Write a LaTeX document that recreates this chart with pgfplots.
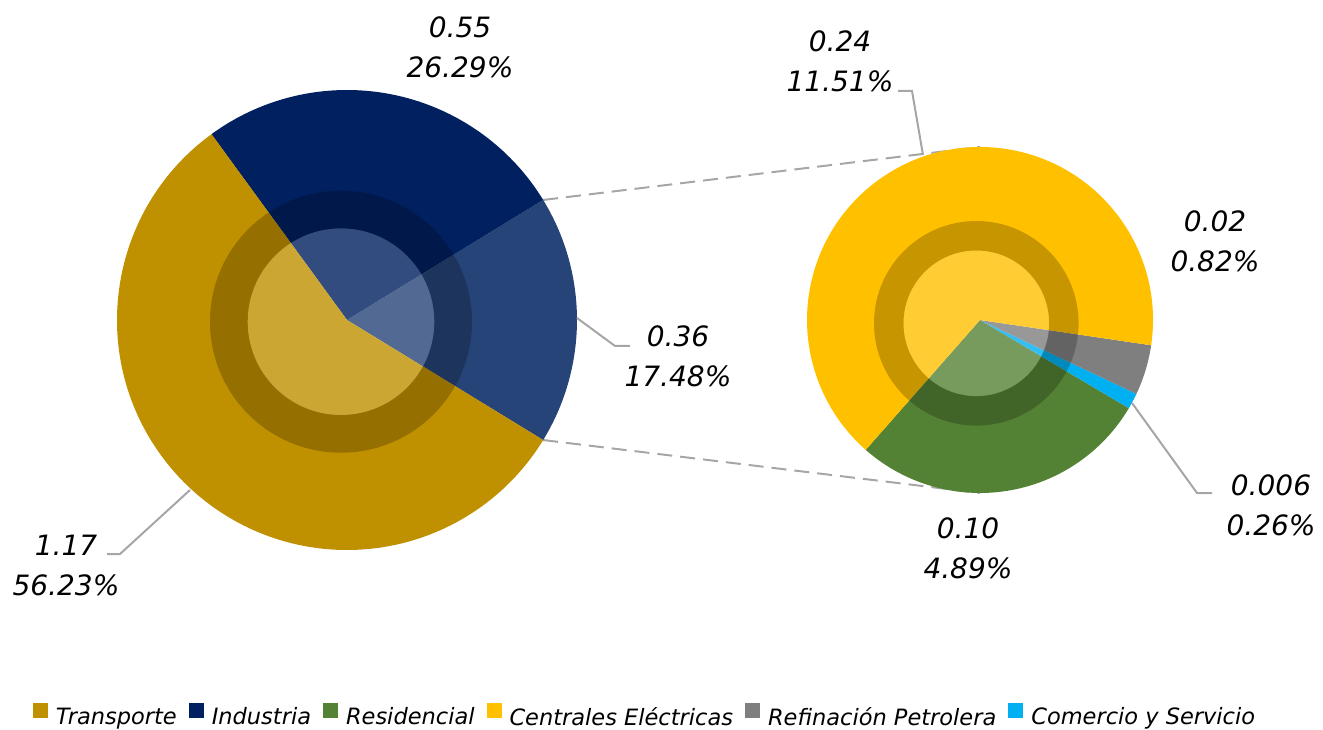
\documentclass[border=0pt]{standalone}
\usepackage{pgfplots}
\pgfplotsset{compat=1.18}
\usepackage{pgfplotstable}
\usepackage{fontspec}
\setmainfont{DejaVu Sans}

\definecolor{cTrans}{HTML}{BF9000}
\definecolor{cInd}{HTML}{002060}
\definecolor{cOtros}{HTML}{264478}
\definecolor{cCent}{HTML}{FFC000}
\definecolor{cRes}{HTML}{548235}
\definecolor{cRef}{HTML}{7F7F7F}
\definecolor{cCom}{HTML}{00B0F0}
\definecolor{cLead}{HTML}{A6A6A6}

% main pie (counter-clockwise from the split-off slice)
\pgfplotstableread{
name value col
Otros 17.48 cOtros
Industria 26.29 cInd
Transporte 56.23 cTrans
}\leftpie
% secondary pie (split of "Otros", counter-clockwise)
\pgfplotstableread{
name value col
Residencial 4.89 cRes
Comercio 0.26 cCom
Refinacion 0.82 cRef
Centrales 11.51 cCent
}\rightpie

\newcommand\pieslice[6]{%
  \edef\tmp{\noexpand\fill[#6] (axis cs:#1,#2) -- ++(#4:#3pt) arc[start angle=#4, end angle=#5, radius=#3pt] -- cycle;}\tmp}
\newcommand\lbl{\fontsize{28}{40}\selectfont\itshape}

\begin{document}
\begin{tikzpicture}
\begin{axis}[
  scale only axis, width=1323pt, height=729pt,
  xmin=0, xmax=1323, ymin=0, ymax=729,
  hide axis, clip=false,
  legend columns=6,
  legend style={at={(0.4875,0.018)}, anchor=center, draw=none, fill=none,
    inner sep=0pt, nodes={inner sep=2pt},
    font=\fontsize{22.5}{27}\selectfont\itshape,
    /tikz/every odd column/.append style={column sep=6pt},
    /tikz/every even column/.append style={column sep=10pt}},
  legend image code/.code={\fill[#1] (0pt,-1pt) rectangle (15pt,14pt);},
]
\coordinate (ll) at (axis cs:0,0);
\coordinate (ur) at (axis cs:1323,729);
\addlegendimage{fill=cTrans, draw=none}\addlegendentry{Transporte}
\addlegendimage{fill=cInd, draw=none}\addlegendentry{Industria}
\addlegendimage{fill=cRes, draw=none}\addlegendentry{Residencial}
\addlegendimage{fill=cCent, draw=none}\addlegendentry{Centrales Eléctricas}
\addlegendimage{fill=cRef, draw=none}\addlegendentry{Refinación Petrolera}
\addlegendimage{fill=cCom, draw=none}\addlegendentry{Comercio y Servicio}

% connector lines
\draw[cLead, line width=2pt, dash pattern=on 15pt off 8pt] (axis cs:347,409) ++(31.464:230pt) -- (axis cs:980,582);
\draw[cLead, line width=2pt, dash pattern=on 15pt off 8pt] (axis cs:347,409) ++(-31.464:230pt) -- (axis cs:980,236);

% main pie
\pgfplotstablegetelem{0}{value}\of\leftpie
\pgfmathsetmacro\ang{-\pgfplotsretval*1.8}
\pgfplotsforeachungrouped \i in {0,1,2}{%
  \pgfplotstablegetelem{\i}{value}\of\leftpie \let\pval\pgfplotsretval
  \pgfplotstablegetelem{\i}{col}\of\leftpie \let\pcol\pgfplotsretval
  \pgfmathsetmacro\angb{\ang+\pval*3.6}%
  \pieslice{347}{409}{230}{\ang}{\angb}{\pcol}%
  \global\let\ang\angb
}
% secondary pie
\def\ang{-131.35}
\pgfplotsforeachungrouped \i in {0,1,2,3}{%
  \pgfplotstablegetelem{\i}{value}\of\rightpie \let\pval\pgfplotsretval
  \pgfplotstablegetelem{\i}{col}\of\rightpie \let\pcol\pgfplotsretval
  \pgfmathsetmacro\angb{\ang+\pval*360/17.48}%
  \pieslice{980}{409}{173}{\ang}{\angb}{\pcol}%
  \global\let\ang\angb
}

% bevel-like overlays
\fill[black, opacity=0.22, even odd rule] (axis cs:341,407.3) circle[radius=131pt] (axis cs:341,407.3) circle[radius=93.3pt];
\fill[white, opacity=0.2] (axis cs:341,407.3) circle[radius=93.3pt];
\fill[black, opacity=0.22, even odd rule] (axis cs:976.3,405.7) circle[radius=102.3pt] (axis cs:976.3,405.7) circle[radius=72.8pt];
\fill[white, opacity=0.2] (axis cs:976.3,405.7) circle[radius=72.8pt];

% leader lines
\draw[cLead, line width=2pt] (axis cs:107,175) -- (axis cs:120,175) -- (axis cs:190,239);
\draw[cLead, line width=2pt] (axis cs:577,411) -- (axis cs:615,383) -- (axis cs:630,383);
\draw[cLead, line width=2pt] (axis cs:898,638) -- (axis cs:912,638) -- (axis cs:923,574);
\draw[cLead, line width=2pt] (axis cs:1132,326) -- (axis cs:1197,236) -- (axis cs:1212,236);

% data labels
\node[align=center, font=\lbl, inner sep=0pt] at (axis cs:460,681.2) {0.55\\26.29\%};
\node[align=center, font=\lbl, inner sep=0pt] at (axis cs:66,164) {1.17\\56.23\%};
\node[align=center, font=\lbl, inner sep=0pt] at (axis cs:678,372.5) {0.36\\17.48\%};
\node[align=center, font=\lbl, inner sep=0pt] at (axis cs:840,668) {0.24\\11.51\%};
\node[align=center, font=\lbl, inner sep=0pt] at (axis cs:1215,488) {0.02\\0.82\%};
\node[align=center, font=\lbl, inner sep=0pt] at (axis cs:1271,224) {0.006\\0.26\%};
\node[align=center, font=\lbl, inner sep=0pt] at (axis cs:968,181) {0.10\\4.89\%};
\end{axis}
\pgfresetboundingbox
\path (ll) rectangle (ur);
\end{tikzpicture}
\end{document}
